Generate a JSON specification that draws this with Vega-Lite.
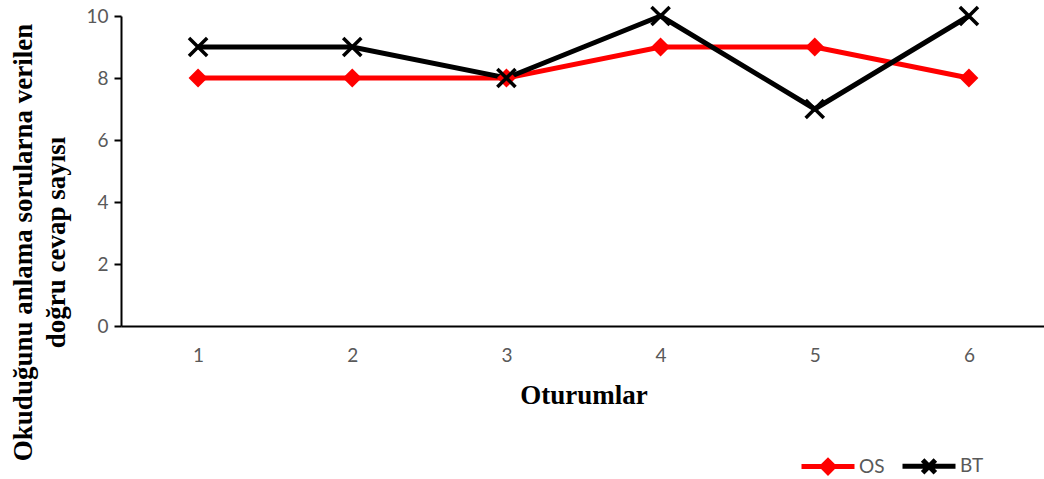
{
  "$schema": "https://vega.github.io/schema/vega-lite/v6.json",
  "autosize": "none",
  "width": 925,
  "height": 310,
  "padding": {"left": 121, "top": 16, "right": 0, "bottom": 153},
  "background": "white",
  "config": {"view": {"stroke": null}},
  "data": {"values": [
    {"oturum": "1", "seri": "OS", "deger": 8},
    {"oturum": "2", "seri": "OS", "deger": 8},
    {"oturum": "3", "seri": "OS", "deger": 8},
    {"oturum": "4", "seri": "OS", "deger": 9},
    {"oturum": "5", "seri": "OS", "deger": 9},
    {"oturum": "6", "seri": "OS", "deger": 8},
    {"oturum": "1", "seri": "BT", "deger": 9},
    {"oturum": "2", "seri": "BT", "deger": 9},
    {"oturum": "3", "seri": "BT", "deger": 8},
    {"oturum": "4", "seri": "BT", "deger": 10},
    {"oturum": "5", "seri": "BT", "deger": 7},
    {"oturum": "6", "seri": "BT", "deger": 10}
  ]},
  "encoding": {
    "x": {"field": "oturum", "type": "ordinal", "scale": {"type": "point", "padding": 0.5},
      "axis": {"title": "Oturumlar", "labelAngle": 0, "ticks": false, "labelPadding": 20, "labelFont": "Lato", "labelFontSize": 19, "labelColor": "#595959",
        "domainColor": "black", "domainWidth": 2, "titleFont": "Liberation Serif", "titleFontWeight": "bold", "titleFontSize": 27, "titleColor": "black", "titlePadding": 17}},
    "y": {"field": "deger", "type": "quantitative", "scale": {"domain": [0, 10], "nice": false},
      "axis": {"values": [0, 2, 4, 6, 8, 10], "grid": false, "tickColor": "black", "tickSize": 7, "tickWidth": 2, "domainColor": "black", "domainWidth": 2,
        "labelFont": "Lato", "labelFontSize": 19, "labelColor": "#595959", "labelPadding": 6,
        "title": ["Okuduğunu anlama sorularna verilen", "doğru cevap sayısı"], "titleFont": "Liberation Serif", "titleFontWeight": "bold", "titleFontSize": 27, "titleColor": "black", "titleLineHeight": 33, "titleX": -90, "titleY": 226, "titleAngle": -90, "titleBaseline": "alphabetic", "titleAlign": "center"}}
  },
  "layer": [
    {
      "mark": {"type": "line", "strokeWidth": 5},
      "encoding": {
        "color": {"field": "seri", "type": "nominal", "scale": {"domain": ["OS", "BT"], "range": ["#FF0000", "#000000"]},
          "legend": {"title": null, "orient": "none", "legendX": 678, "legendY": 421, "direction": "horizontal", "labelFont": "Lato", "labelFontSize": 19, "labelColor": "#595959", "symbolSize": 2809, "symbolStrokeWidth": 5, "columnPadding": 7, "labelOffset": 2,
            "symbolType": "M-1,0H1",
            "encode": {"symbols": {"update": {
              "shape": {"signal": "datum.value === 'OS' ? 'M-1,0H1M-0.22,0L0,-0.22L0.22,0L0,0.22Z' : 'M-1,0H1M-0.24,-0.24L0.24,0.24M-0.24,0.24L0.24,-0.24'"},
              "fill": {"signal": "datum.value === 'OS' ? '#FF0000' : 'transparent'"},
              "strokeWidth": {"value": 5}
            }}}}}
      }
    },
    {
      "transform": [{"filter": "datum.seri === 'OS'"}],
      "mark": {"type": "point", "shape": "diamond", "filled": true, "size": 360, "color": "#FF0000", "opacity": 1}
    },
    {
      "transform": [{"filter": "datum.seri === 'BT'"}],
      "mark": {"type": "point", "shape": "M-1,-1L1,1M-1,1L1,-1", "filled": false, "size": 330, "color": "#000000", "strokeWidth": 3.5, "opacity": 1}
    }
  ]
}
